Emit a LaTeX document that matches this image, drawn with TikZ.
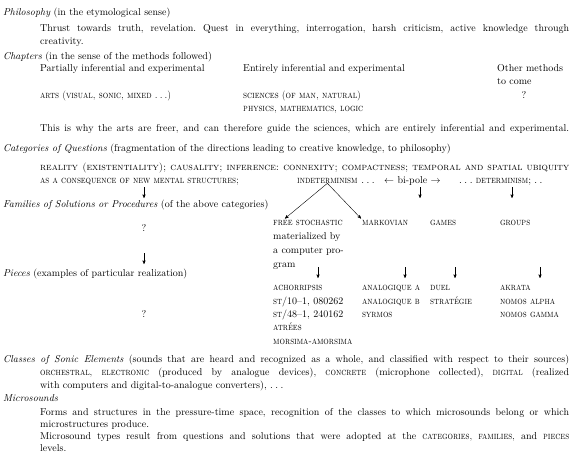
\documentclass[tikz,border=0pt]{standalone}
\usepackage{tikz}
\usetikzlibrary{arrows}
\newcommand{\fullline}[2]{\makebox[#1][s]{#2}}
\newcommand{\sdots}{.\kern2.5pt.\kern2.5pt.}
\newcommand{\nsc}[1]{\scalebox{.86}[1]{\textsc{#1}}}

\begin{document}
\frenchspacing
\begin{tikzpicture}[x=1pt,y=-1pt,->,>=stealth',
  txt/.style={anchor=base west,inner sep=0pt,font=\normalsize},
  mid/.style={anchor=base,inner sep=0pt,font=\normalsize},
  down/.style={->,>=stealth',shorten >=0pt,line width=.4pt}]
\useasboundingbox (0,0) rectangle (572,455);

% Philosophy
  \node[txt] (philo) at (3,15) {\textit{Philosophy} (in the etymological sense)};
  \node[txt] (thrust) at (40,31) {\fullline{529pt}{Thrust towards truth, revelation. Quest in everything, interrogation, harsh criticism, active knowledge through}};
  \node[txt] (creat) at (40,44) {creativity.};

% Chapters
  \node[txt] (chap) at (3,59) {\textit{Chapters} (in the sense of the methods followed)};
  \node[txt] (partial) at (40,71) {Partially inferential and experimental};
  \node[txt] (entire) at (243,71) {Entirely inferential and experimental};
  \node[txt] (other) at (497,71) {Other methods};
  \node[txt] (tocome) at (497,84) {to come};
  \node[txt] (arts) at (40,98) {\nsc{arts (visual, sonic, mixed \sdots)}};
  \node[txt] (sci) at (243,98) {\nsc{sciences (of man, natural)}};
  \node[mid] (q0) at (524,98) {?};
  \node[txt] (phys) at (243,111) {\nsc{physics, mathematics, logic}};
  \node[txt] (why) at (40,131) {\fullline{529pt}{This is why the arts are freer, and can therefore guide the sciences, which are entirely inferential and experimental.}};

% Categories
  \node[txt] (cat) at (3,151) {\textit{Categories of Questions} (fragmentation of the directions leading to creative knowledge, to philosophy)};
  \node[txt] (real) at (40,170) {\fullline{529pt}{\textsc{reality (existentiality); causality; inference: connexity; compactness; temporal and spatial ubiquity}}};
  \node[txt] (conseq) at (40,183) {\nsc{as a consequence of new mental structures;}};
  \node[txt] (indet) at (297,183) {\nsc{indeterminism}};
  \node[txt] (dots) at (indet.base east) {\ \sdots};
  \node[txt] (bipole) at (384,183) {$\leftarrow$ bi-pole $\rightarrow$};
  \node[txt] (det) at (459,183) {\sdots\ \nsc{determinism}; .\kern2.5pt.};

% Families
  \node[txt] (fam) at (3,207) {\textit{Families of Solutions or Procedures} (of the above categories)};
  \node[txt] (free) at (273,225) {\nsc{free stochastic}};
  \node[txt] (markov) at (362,225) {\nsc{markovian}};
  \node[txt] (games) at (430,225) {\nsc{games}};
  \node[txt] (groups) at (500,225) {\nsc{groups}};
  \node[mid] (q1) at (144,231) {?};
  \node[txt] (mat) at (273,239) {materialized by};
  \node[txt] (comp) at (273,253) {a computer pro-};
  \node[txt] (gram) at (273,267) {gram};

% Pieces
  \node[txt] (pieces) at (3,276) {\textit{Pieces} (examples of particular realization)};
  \node[txt] (achor) at (273,290) {\nsc{achorripsis}};
  \node[txt] (anaa) at (362,290) {\nsc{analogique a}};
  \node[txt] (duel) at (430,290) {\nsc{duel}};
  \node[txt] (akrata) at (500,290) {\nsc{akrata}};
  \node[txt] (st10) at (273,304) {\nsc{st}/10--1, 080262};
  \node[txt] (anab) at (362,304) {\nsc{analogique b}};
  \node[txt] (strat) at (430,304) {\nsc{stratégie}};
  \node[txt] (alpha) at (500,304) {\nsc{nomos alpha}};
  \node[txt] (st48) at (273,317) {\nsc{st}/48--1, 240162};
  \node[txt] (syrmos) at (362,317) {\nsc{syrmos}};
  \node[txt] (gamma) at (500,317) {\nsc{nomos gamma}};
  \node[mid] (q2) at (144,317) {?};
  \node[txt] (atrees) at (273,330) {\nsc{atrées}};
  \node[txt] (morsima) at (273,344) {\nsc{morsima-amorsima}};

% Classes and Microsounds
  \node[txt] (classes) at (3,362) {\fullline{566pt}{\textit{Classes of Sonic Elements} (sounds that are heard and recognized as a whole, and classified with respect to their sources)}};
  \node[txt] (orch) at (40,375) {\fullline{529pt}{\nsc{orchestral,} \nsc{electronic} (produced by analogue devices), \nsc{concrete} (microphone collected), \nsc{digital} (realized}};
  \node[txt] (withc) at (40,388) {with computers and digital-to-analogue converters), \sdots};
  \node[txt] (micro) at (3,401) {\textit{Microsounds}};
  \node[txt] (forms) at (40,415) {\fullline{529pt}{Forms and structures in the pressure-time space, recognition of the classes to which microsounds belong or which}};
  \node[txt] (mprod) at (40,427) {microstructures produce.};
  \node[txt] (mtypes) at (40,439) {\fullline{529pt}{Microsound types result from questions and solutions that were adopted at the \nsc{categories,} \nsc{families,} and \nsc{pieces}}};
  \node[txt] (levels) at (40,451) {levels.};

% arrows
  \coordinate (a1) at (144,187);
  \coordinate (a2) at (420,187);
  \coordinate (a3) at (512,187);
  \coordinate (b1) at (144,253);
  \coordinate (c1) at (318,267);
  \coordinate (c2) at (405,267);
  \coordinate (c3) at (455,267);
  \coordinate (c4) at (540,267);
  \path[down]
    (a1) edge (144,198)
    (a2) edge (420,198)
    (a3) edge (512,198)
    (b1) edge (144,264)
    (c1) edge (318,278)
    (c2) edge (405,278)
    (c3) edge (455,278)
    (c4) edge (540,278);

  \path[down]
    (indet.south) edge ([xshift=12pt,yshift=1pt]free.north west)
    (indet.south) edge ([xshift=-1pt,yshift=1pt]markov.north west);

\end{tikzpicture}
\end{document}
